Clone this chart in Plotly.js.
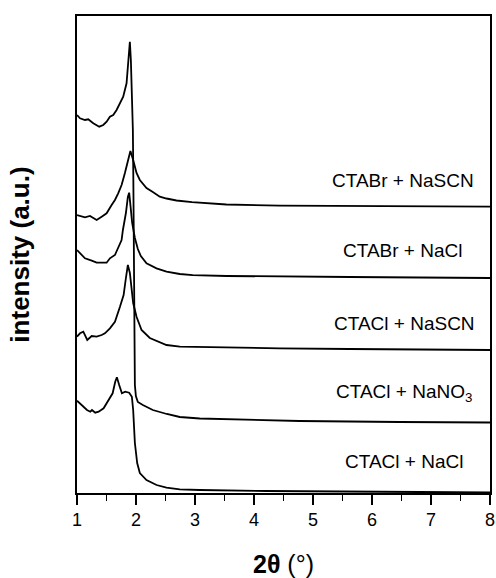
<!DOCTYPE html>
<html>
<head>
<meta charset="utf-8">
<script src="https://cdn.plot.ly/plotly-3.0.1.min.js"></script>
<style>html,body{margin:0;padding:0;background:#fff;}#chart{width:496px;height:578px;}</style>
</head>
<body>
<div id="chart"></div>
<script>
// 2θ (degrees) and intensity (a.u.)
const x_ctacl_nano3 = [1.0,1.051,1.135,1.19,1.276,1.377,1.445,1.502,1.558,1.614,1.671,1.727,1.783,1.840,1.867,1.896,1.913,1.930,1.947,1.955,1.964,1.969,1.974,1.981,1.998,2.031,2.116,2.285,2.522,2.742,3.080,3.925,4.771,6.462,8.0];
const y_ctacl_nano3 = [378,374.7,373,373.7,369.7,366.3,368,371.3,376.3,378,383,390,396.3,409.7,426.3,451.3,433,403,363,313,253,193,143,108,97,91,88,83,79,76,74.5,73,72,71,70.5];

const x_ctabr_nascn = [1.0,1.051,1.135,1.220,1.276,1.333,1.418,1.502,1.587,1.643,1.698,1.756,1.812,1.867,1.905,1.952,2.009,2.065,2.178,2.285,2.403,2.517,2.686,2.95,3.193,3.531,4.433,5.617,6.800,8.0];
const y_ctabr_nascn = [278,277,275.7,277,274.7,273,276.3,279.7,288,293,299.7,308,320,333,342,333,320,313,305,301,296.3,294.5,292.5,290.8,289.7,288.5,287.3,287,286.7,286.3];

const x_ctabr_nacl = [1.0,1.051,1.135,1.249,1.333,1.502,1.558,1.643,1.698,1.756,1.778,1.829,1.862,1.884,1.908,1.935,1.981,2.031,2.082,2.178,2.348,2.517,2.742,2.961,3.536,4.433,5.617,6.800,8.0];
const y_ctabr_nacl = [243,239.7,234.7,232.3,230.3,230.3,234.7,238,244.7,253,263,280,296,300.3,286.3,270,255,244,237,229.7,224.7,221.3,219,217.8,217,216.3,216,215.5,215];

const x_ctacl_nascn = [1.0,1.051,1.107,1.174,1.249,1.333,1.418,1.473,1.558,1.643,1.727,1.790,1.829,1.862,1.896,1.925,1.952,2.009,2.094,2.234,2.517,2.742,3.249,4.433,5.617,6.800,8.0];
const y_ctacl_nascn = [156.3,159.7,161.3,153,157,156.3,158,159.7,164.7,171.3,186,198,215,228,220,203,190,176.3,163,155,148,146.3,145.7,144.7,144,143.5,143];

const x_ctacl_nacl = [1.0,1.085,1.169,1.225,1.254,1.309,1.367,1.451,1.507,1.563,1.604,1.648,1.676,1.715,1.761,1.817,1.884,1.930,1.952,1.981,2.020,2.065,2.178,2.348,2.517,2.742,3.080,4.208,5.329,6.800,8.0];
const y_ctacl_nacl = [92.3,88,83,81.3,83,80.3,81.3,84.7,89.7,94.7,99.7,111.3,115.7,108,99.7,101.3,100.3,96.3,83,50,30,20,13,8,5.3,3.7,3,2,1.3,1,0.7];

const labels = ["CTABr + NaSCN","CTABr + NaCl","CTACl + NaSCN","CTACl + NaNO<sub>3</sub>","CTACl + NaCl"];
const labelX = [6.52,6.52,6.55,6.55,6.55];
const labelY = [313,243,170,100,32];

const FONT = "Arial, 'Liberation Sans', sans-serif";
const series = [
  [x_ctacl_nano3, y_ctacl_nano3],
  [x_ctabr_nascn, y_ctabr_nascn],
  [x_ctabr_nacl, y_ctabr_nacl],
  [x_ctacl_nascn, y_ctacl_nascn],
  [x_ctacl_nacl, y_ctacl_nacl]
];
const traces = series.map(s => ({
  x: s[0], y: s[1], type: 'scatter', mode: 'lines',
  line: {color: '#000', width: 1.8}, hoverinfo: 'skip', showlegend: false
}));

const annotations = labels.map((t, i) => ({
  x: labelX[i], y: labelY[i], xref: 'x', yref: 'y', text: t, showarrow: false,
  xanchor: 'center', yanchor: 'middle', font: {family: FONT, size: 19, color: '#000'}
}));

const layout = {
  width: 496, height: 578,
  margin: {l: 77, r: 6, t: 16, b: 85},
  paper_bgcolor: '#fff', plot_bgcolor: '#fff',
  showlegend: false,
  xaxis: {
    range: [1, 8], dtick: 1, tick0: 1,
    ticks: 'outside', ticklen: 10, tickwidth: 1.5, tickcolor: '#000',
    minor: {dtick: 0.5, ticks: 'outside', ticklen: 6, tickwidth: 1.5, tickcolor: '#000', showgrid: false},
    showline: true, linewidth: 1.8, linecolor: '#000', mirror: true,
    showgrid: false, zeroline: false,
    tickfont: {family: FONT, size: 18, color: '#000'},
    title: {text: '<b>2θ</b> (°)', font: {family: FONT, size: 25, color: '#000'}, standoff: 28}
  },
  yaxis: {
    range: [0, 477],
    showticklabels: false, ticks: '',
    showline: true, linewidth: 1.8, linecolor: '#000', mirror: true,
    showgrid: false, zeroline: false,
    title: {text: '<b>intensity (a.u.)</b>', font: {family: FONT, size: 26, color: '#000'}, standoff: 38}
  },
  annotations: annotations
};

Plotly.newPlot('chart', traces, layout, {staticPlot: true, displayModeBar: false});
</script>
</body>
</html>
